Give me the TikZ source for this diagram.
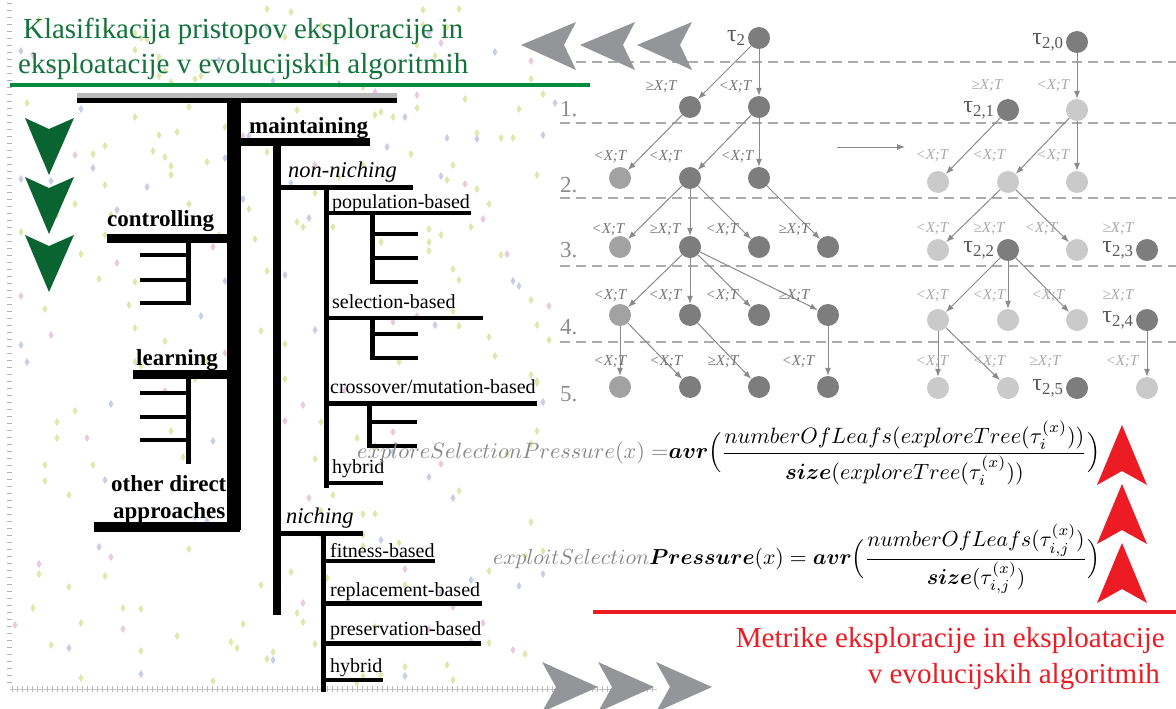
\documentclass[tikz,border=0pt]{standalone}
\usepackage{fontspec}
\setmainfont{Liberation Serif}
\usepackage{amsmath,bm}
\usepackage{graphicx}
\usetikzlibrary{arrows.meta,calc}
\definecolor{tgreen}{RGB}{20,115,60}
\definecolor{lgreen}{RGB}{0,140,60}
\definecolor{cgreen}{RGB}{10,100,50}
\definecolor{tred}{RGB}{237,28,36}
\definecolor{chevgray}{RGB}{148,149,153}
\definecolor{ndark}{RGB}{125,125,125}
\definecolor{nlight}{RGB}{202,202,202}
\definecolor{nmid}{RGB}{162,162,162}
\definecolor{edgegray}{RGB}{138,138,138}
\definecolor{labdark}{RGB}{115,115,115}
\definecolor{lablight}{RGB}{168,168,168}
\definecolor{fgray}{RGB}{135,135,135}
\definecolor{dotgreen}{RGB}{222,232,170}
\definecolor{dotblue}{RGB}{200,205,232}
\definecolor{dotpink}{RGB}{236,200,222}
\begin{document}
\begin{tikzpicture}[x=1pt,y=-1pt,
  hb/.style={line width=#1},
  tnode/.style={circle,inner sep=0pt,minimum size=22pt},
  dn/.style={tnode,fill=ndark},
  ln/.style={tnode,fill=nlight},
  mn/.style={tnode,fill=nmid},
  arr/.style={draw=edgegray,line width=1pt,-{Latex[length=8pt,width=6pt]}},
  elabL/.style={inner sep=0pt,text=labdark,font=\fontsize{15}{15}\selectfont\itshape},
  elabR/.style={inner sep=0pt,text=lablight,font=\fontsize{15}{15}\selectfont\itshape},
  taul/.style={text=black!65,font=\fontsize{24}{24}\selectfont,label distance=1pt,inner sep=1pt},
  lvl/.style={anchor=base west,inner sep=0pt,text=black!45,font=\fontsize{23}{23}\selectfont},
  hbold/.style={anchor=base west,inner sep=0pt,font=\fontsize{23}{23}\selectfont\bfseries},
  hital/.style={anchor=base west,inner sep=0pt,font=\fontsize{22.5}{22.5}\selectfont\itshape},
  hnorm/.style={anchor=base west,inner sep=0pt,font=\fontsize{20}{20}\selectfont},
  ttl/.style={anchor=base west,inner sep=0pt,font=\fontsize{29}{29}\selectfont}
]
\useasboundingbox (0,0) rectangle (1176,709);
\clip (0,0) rectangle (1176,709);
\fill[white] (0,0) rectangle (1176,709);

% faint background dots
\pgfmathsetseed{4242}
\foreach \i in {1,...,280}{
  \pgfmathtruncatemacro{\dx}{15+6*random(0,90)}
  \pgfmathtruncatemacro{\dy}{5+random(0,680)}
  \pgfmathtruncatemacro{\dc}{random(1,12)}
  \ifnum\dc>10 \def\dcol{dotpink}\else\ifnum\dc>8 \def\dcol{dotblue}\else\def\dcol{dotgreen}\fi\fi
  \fill[\dcol] (\dx,\dy-4) -- (\dx+2.5,\dy) -- (\dx,\dy+4) -- (\dx-2.5,\dy) -- cycle;
}

% rulers
\foreach \y in {3,10,...,686} \draw[gray!60,line width=0.7pt] (7,\y) -- (12,\y);
\draw[gray!45,line width=0.6pt] (10,689) -- (657,689);
\foreach \x in {12,17,...,655} \draw[gray!55,line width=0.6pt] (\x,686) -- (\x,692);

% title (green)
\node[ttl,text=tgreen] (t1) at (23,38) {\resizebox{440pt}{\height}{Klasifikacija pristopov eksploracije in}};
\node[ttl,text=tgreen] (t2) at (18,74) {\resizebox{450pt}{\height}{eksploatacije v evolucijskih algoritmih}};
\draw[lgreen,line width=4pt] (10,85) -- (590,85);

% green down chevrons
\foreach \t in {118,177,235}{
  \fill[cgreen] (25,\t) -- (49,\t+11) -- (74,\t) -- (49,\t+57) -- cycle;
}

% ---- classification tree (bars) ----
\draw[gray!55,hb=5pt] (77,95.5) -- (397,95.5);
\draw[hb=5pt] (77,100.5) -- (397,100.5);
\draw[hb=14pt] (234,98) -- (234,530);
\draw[hb=8pt] (234,142) -- (370,142);
\draw[hb=8pt] (277,142) -- (277,615);
\draw[hb=5pt] (277,187) -- (413,187);
\draw[hb=5pt] (326,185) -- (326,488);
% population-based
\draw[hb=4pt] (326,213) -- (471,213);
\draw[hb=5pt] (372,213) -- (372,284);
\foreach \y in {234,258,282} \draw[hb=4pt] (370,\y) -- (418,\y);
% selection-based
\draw[hb=4pt] (326,318) -- (483,318);
\draw[hb=5pt] (372,318) -- (372,360);
\foreach \y in {334,358} \draw[hb=4pt] (370,\y) -- (418,\y);
% crossover
\draw[hb=5pt] (326,403) -- (537,403);
\draw[hb=5pt] (369,403) -- (369,448);
\foreach \y in {422,446} \draw[hb=4pt] (367,\y) -- (417,\y);
% hybrid
\draw[hb=4pt] (326,483) -- (383,483);
% niching
\draw[hb=5pt] (277,533) -- (363,533);
\draw[hb=5pt] (323,531) -- (323,692);
\draw[hb=4pt] (323,561) -- (435,561);
\draw[hb=5pt] (323,603) -- (482,603);
\draw[hb=5pt] (323,643) -- (481,643);
\draw[hb=4pt] (323,680) -- (383,680);
% controlling
\draw[hb=9pt] (107,238) -- (234,238);
\draw[hb=5pt] (188,238) -- (188,305);
\foreach \y in {255,280,303} \draw[hb=4pt] (140,\y) -- (190,\y);
% learning
\draw[hb=9pt] (133,374) -- (234,374);
\draw[hb=5pt] (188,374) -- (188,464);
\foreach \y in {393,417,440} \draw[hb=4pt] (140,\y) -- (190,\y);
% other direct approaches
\draw[hb=10pt] (94,527) -- (240,527);

% labels of classification tree
\node[hbold] (mnt) at (249,133) {maintaining};
\node[hital] (nnc) at (288,177) {non-niching};
\node[hnorm] (pop) at (332,208) {population-based};
\node[hnorm] (sel) at (332,308) {selection-based};
\node[hnorm] (crs) at (330,393) {crossover/mutation-based};
\node[hnorm] (hy1) at (332,473) {hybrid};
\node[hital] (nch) at (286,523) {niching};
\node[hnorm] (fit) at (330,557) {fitness-based};
\node[hnorm] (rep) at (330,596) {replacement-based};
\node[hnorm] (pre) at (330,635) {preservation-based};
\node[hnorm] (hy2) at (330,672) {hybrid};
\node[hbold] (ctl) at (107,226) {controlling};
\node[hbold] (lrn) at (136,365) {learning};
\node[hbold] (oda) at (111,491) {other direct};
\node[hbold] (apr) at (113,518) {approaches};

% ---- tree figure ----
\foreach \y in {62,123,198,266,342}
  \draw[gray!65,line width=1.1pt,dash pattern=on 10pt off 6pt] (560,\y) -- (1176,\y);

\node[lvl] (l1) at (560,117) {1.};
\node[lvl] (l2) at (560,192) {2.};
\node[lvl] (l3) at (560,257) {3.};
\node[lvl] (l4) at (560,334) {4.};
\node[lvl] (l5) at (560,401) {5.};

% left tree nodes
\node[dn,label={[taul]left:τ\textsubscript{2}}] (a0) at (759,38) {};
\node[dn] (a11) at (690,107) {};
\node[dn] (a12) at (759,107) {};
\node[mn] (a21) at (620,178) {};
\node[dn] (a22) at (690,178) {};
\node[dn] (a23) at (759,178) {};
\node[mn] (a31) at (620,247) {};
\node[dn] (a32) at (690,247) {};
\node[dn] (a33) at (759,247) {};
\node[dn] (a34) at (828,247) {};
\node[mn] (a41) at (620,315) {};
\node[dn] (a42) at (690,315) {};
\node[dn] (a43) at (759,315) {};
\node[dn] (a44) at (828,315) {};
\node[mn] (a51) at (620,387) {};
\node[dn] (a52) at (690,387) {};
\node[dn] (a53) at (759,387) {};
\node[dn] (a54) at (828,387) {};

\draw[arr] (a0) -- (a11);
\draw[arr] (a0) -- (a12);
\draw[arr] (a11) -- (a21);
\draw[arr] (a12) -- (a22);
\draw[arr] (a12) -- (a23);
\draw[arr] (a22) -- (a31);
\draw[arr] (a22) -- (a32);
\draw[arr] (a22) -- (a33);
\draw[arr] (a23) -- (a34);
\draw[arr] (a32) -- (a41);
\draw[arr] (a32) -- (a42);
\draw[arr] (a32) -- (a43);
\draw[arr] (a32) -- (a44);
\draw[arr] (a41) -- (a51);
\draw[arr] (a41) -- (a52);
\draw[arr] (a42) -- (a53);
\draw[arr] (a44) -- (a54);

% left edge labels
\node[elabL] (e11) at (661,87) {≥X;T};
\node[elabL] (e12) at (735,87) {<X;T};
\node[elabL] (e21) at (610,157) {<X;T};
\node[elabL] (e22) at (665,157) {<X;T};
\node[elabL] (e23) at (737,157) {<X;T};
\node[elabL] (e31) at (608,230) {<X;T};
\node[elabL] (e32) at (665,230) {≥X;T};
\node[elabL] (e33) at (722,230) {<X;T};
\node[elabL] (e34) at (794,230) {≥X;T};
\node[elabL] (e41) at (610,296) {<X;T};
\node[elabL] (e42) at (665,296) {<X;T};
\node[elabL] (e43) at (722,296) {<X;T};
\node[elabL] (e44) at (794,296) {≥X;T};
\node[elabL] (e51) at (610,362) {<X;T};
\node[elabL] (e52) at (666,362) {<X;T};
\node[elabL] (e53) at (723,362) {≥X;T};
\node[elabL] (e54) at (798,362) {<X;T};

% middle arrow
\coordinate (m1) at (837,147);
\coordinate (m2) at (905,147);
\draw[arr] (m1) -- (m2);

% right tree nodes
\node[dn,label={[taul]left:τ\textsubscript{2,0}}] (b0) at (1077,42) {};
\node[dn,label={[taul]left:τ\textsubscript{2,1}}] (b11) at (1008,110) {};
\node[ln] (b12) at (1077,110) {};
\node[ln] (b21) at (938,182) {};
\node[ln] (b22) at (1008,182) {};
\node[ln] (b23) at (1077,182) {};
\node[ln] (b31) at (938,250) {};
\node[dn,label={[taul]left:τ\textsubscript{2,2}}] (b32) at (1008,250) {};
\node[ln] (b33) at (1077,250) {};
\node[dn,label={[taul]left:τ\textsubscript{2,3}}] (b34) at (1147,250) {};
\node[ln] (b41) at (938,320) {};
\node[ln] (b42) at (1008,320) {};
\node[ln] (b43) at (1077,320) {};
\node[dn,label={[taul]left:τ\textsubscript{2,4}}] (b44) at (1147,320) {};
\node[ln] (b51) at (938,388) {};
\node[ln] (b52) at (1008,388) {};
\node[dn,label={[taul]left:τ\textsubscript{2,5}}] (b53) at (1077,388) {};
\node[ln] (b54) at (1147,388) {};

\draw[arr] (b0) -- (b12);
\draw[arr] (b11) -- (b21);
\draw[arr] (b12) -- (b22);
\draw[arr] (b12) -- (b23);
\draw[arr] (b22) -- (b31);
\draw[arr] (b22) -- (b33);
\draw[arr] (b32) -- (b41);
\draw[arr] (b32) -- (b42);
\draw[arr] (b32) -- (b43);
\draw[arr] (b41) -- (b51);
\draw[arr] (b41) -- (b52);
\draw[arr] (b44) -- (b54);

% right edge labels
\node[elabR] (r11) at (987,86) {≥X;T};
\node[elabR] (r12) at (1053,86) {<X;T};
\node[elabR] (r21) at (932,156) {<X;T};
\node[elabR] (r22) at (989,156) {<X;T};
\node[elabR] (r23) at (1053,156) {<X;T};
\node[elabR] (r31) at (932,229) {<X;T};
\node[elabR] (r32) at (989,229) {≥X;T};
\node[elabR] (r33) at (1041,229) {<X;T};
\node[elabR] (r34) at (1118,229) {≥X;T};
\node[elabR] (r41) at (932,296) {<X;T};
\node[elabR] (r42) at (989,296) {<X;T};
\node[elabR] (r43) at (1048,296) {<X;T};
\node[elabR] (r44) at (1118,296) {≥X;T};
\node[elabR] (r51) at (932,362) {<X;T};
\node[elabR] (r52) at (989,362) {<X;T};
\node[elabR] (r53) at (1045,362) {≥X;T};
\node[elabR] (r54) at (1122,362) {<X;T};

% gray left chevrons (top)
\foreach \x in {521,580,637}{
  \fill[chevgray] (\x,45) -- (\x+55,22) -- (\x+43,45) -- (\x+55,70) -- cycle;
}

% ---- formulas ----
\node[anchor=west,inner sep=0pt] (f1) at (357,453) {\resizebox{743pt}{!}{$\displaystyle
  {\color{fgray}exploreSelectionPressure(x)\;{=}}\bm{avr}\Big(\frac{numberOfLeafs(exploreTree(\tau_i^{(x)}))}{\bm{size}(exploreTree(\tau_i^{(x)}))}\Big)$}};
\node[anchor=west,inner sep=0pt] (f2) at (493,559) {\resizebox{607pt}{!}{$\displaystyle
  {\color{fgray}exploitSelection}\bm{Pressure}(x) = \bm{avr}\Big(\frac{numberOfLeafs(\tau_{i,j}^{(x)})}{\bm{size}(\tau_{i,j}^{(x)})}\Big)$}};

% red up chevrons
\foreach \t in {425,484,543}{
  \fill[tred] (1122,\t) -- (1147,\t+60) -- (1122,\t+46) -- (1097,\t+60) -- cycle;
}

% red metric title
\draw[tred,line width=4pt] (593,612) -- (1176,612);
\node[anchor=base east,inner sep=0pt,text=tred,font=\fontsize{29}{29}\selectfont] (m1t) at (1165,647) {\resizebox{429pt}{\height}{Metrike eksploracije in eksploatacije}};
\node[anchor=base east,inner sep=0pt,text=tred,font=\fontsize{29}{29}\selectfont] (m2t) at (1160,683) {\resizebox{292pt}{\height}{v evolucijskih algoritmih}};

% gray right chevrons (bottom)
\foreach \x in {542,598,656}{
  \fill[chevgray] (\x,662) -- (\x+56,687) -- (\x,712) -- (\x+14,687) -- cycle;
}
\end{tikzpicture}
\end{document}
